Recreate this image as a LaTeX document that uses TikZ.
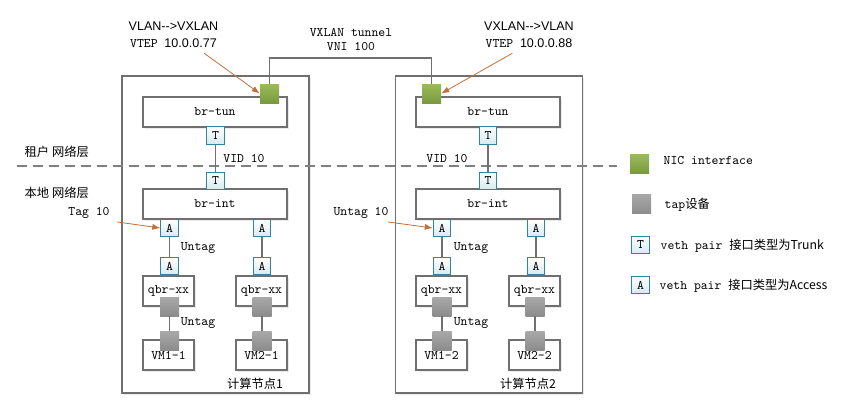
\documentclass[tikz,border=0pt]{standalone}
\usepackage{fontspec}
\setmainfont{Latin Modern Mono}[Ligatures=TeXOff]
\newfontfamily\cjk{Noto Sans CJK SC}[Scale=0.94]
\newfontfamily\ssf{Liberation Sans}[Ligatures=TeXOff,Scale=0.96]
\usetikzlibrary{arrows.meta,shadows}
\definecolor{nictop}{HTML}{9BBB59}
\definecolor{nicbot}{HTML}{7A9A3F}
\definecolor{taptop}{HTML}{A8A8A8}
\definecolor{tapbot}{HTML}{8C8C8C}
\definecolor{portline}{HTML}{31849B}
\definecolor{portfill}{HTML}{D6EAF0}
\definecolor{boxline}{HTML}{707070}
\definecolor{pointerc}{HTML}{C0703A}
\tikzset{
  boxshadow/.style={drop shadow={shadow xshift=1.5pt,shadow yshift=-1.5pt,fill=black,opacity=.08}},
  frame/.style={draw=boxline,line width=1pt,fill=white,boxshadow,minimum width=140.25pt,minimum height=237.75pt},
  brbox/.style={draw=boxline,line width=.9pt,fill=white,boxshadow,minimum width=108pt,minimum height=22.5pt},
  vmbox/.style={draw=boxline,line width=.9pt,fill=white,boxshadow,minimum width=38.25pt,minimum height=22.5pt},
  port/.style={draw=portline,line width=.8pt,top color=white,bottom color=portfill,inner sep=0pt,minimum size=13pt},
  nic/.style={top color=nictop,bottom color=nicbot,inner sep=0pt,minimum size=14.25pt},
  tap/.style={top color=taptop,bottom color=tapbot,inner sep=0pt,minimum size=14.25pt},
  wire/.style={draw=boxline,line width=.8pt},
  pointer/.style={draw=pointerc,line width=.6pt,-{Latex[length=6pt,width=4.5pt]}}
}

\begin{document}
\begin{tikzpicture}[x=0.75pt,y=-0.75pt,font=\fontsize{9.8}{11}\selectfont]
  \useasboundingbox (0,0) rectangle (862,414);
  % compute nodes
  \node[frame] (cn1) at (215.5,234.5) {};
  \node[frame] (cn2) at (488.7,234.5) {};
  \node (cn1lbl) at (255,384) {\cjk{计算节点}1};
  \node (cn2lbl) at (528,384) {\cjk{计算节点}2};
  % layer line
  \draw [gray,line width=.8pt,dash pattern=on 7.5pt off 4.5pt] (17,166) -- (617,166);
  \node[anchor=west] (tenant) at (20,152) {\cjk{租户 网络层}};
  \node[anchor=west] (local) at (20,193) {\cjk{本地 网络层}};
  % bridges
  \node[brbox] (tun1) at (215,112) {br-tun};
  \node[brbox] (tun2) at (488,112) {br-tun};
  \node[brbox] (int1) at (215,204) {br-int};
  \node[brbox] (int2) at (488,204) {br-int};
  \node[vmbox] (qbr11) at (168.5,291) {qbr-xx};
  \node[vmbox] (qbr12) at (261.5,291) {qbr-xx};
  \node[vmbox] (qbr21) at (441.5,291) {qbr-xx};
  \node[vmbox] (qbr22) at (534.5,291) {qbr-xx};
  \node[vmbox] (vm11) at (168.5,355) {VM1-1};
  \node[vmbox] (vm12) at (261.5,355) {VM2-1};
  \node[vmbox] (vm21) at (441.5,355) {VM1-2};
  \node[vmbox] (vm22) at (534.5,355) {VM2-2};
  % ports
  \node[port] (t1a) at (215.5,135.5) {T};
  \node[port] (t1b) at (215.5,181) {T};
  \node[port] (t2a) at (488,135.5) {T};
  \node[port] (t2b) at (488,181) {T};
  \node[port] (a11) at (169.5,228) {A};
  \node[port] (a12) at (262,228) {A};
  \node[port] (a13) at (169.5,266) {A};
  \node[port] (a14) at (262,266) {A};
  \node[port] (a21) at (442,228) {A};
  \node[port] (a22) at (536,228) {A};
  \node[port] (a23) at (442,266) {A};
  \node[port] (a24) at (536,266) {A};
  \node[tap] (tap11) at (169.5,306.5) {};
  \node[tap] (tap12) at (262,306.5) {};
  \node[tap] (tap13) at (169.5,340.5) {};
  \node[tap] (tap14) at (262,340.5) {};
  \node[tap] (tap21) at (442,306.5) {};
  \node[tap] (tap22) at (535,306.5) {};
  \node[tap] (tap23) at (442,340.5) {};
  \node[tap] (tap24) at (535,340.5) {};
  \node[nic] (nic1) at (269.5,93.5) {};
  \node[nic] (nic2) at (431.5,93.5) {};
  % links
  \draw[wire] (t1a) -- (t1b);
  \draw[wire] (t2a) -- (t2b);
  \draw[wire] (a11) -- (a13);
  \draw[wire] (a12) -- (a14);
  \draw[wire] (a21) -- (a23);
  \draw[wire] (a22) -- (a24);
  \draw[wire] (tap11) -- (tap13);
  \draw[wire] (tap12) -- (tap14);
  \draw[wire] (tap21) -- (tap23);
  \draw[wire] (tap22) -- (tap24);
  \coordinate (tunnel) at (350,58);
  \draw[wire] (nic1.north) |- (tunnel) -| (nic2.north);
  % labels
  \node[align=center] (vni) at (351,39.5) {VXLAN tunnel\\[0.2pt]VNI 100};
  \node[align=center] (vtep1) at (173.5,34.5) {{\ssf VLAN-->VXLAN}\\[1.5pt]VTEP {\ssf 10.0.0.77}};
  \node[align=center] (vtep2) at (529,34.5) {{\ssf VXLAN-->VLAN}\\[1.5pt]VTEP {\ssf 10.0.0.88}};
  \node (vid1) at (244,159) {VID 10};
  \node (vid2) at (447,159) {VID 10};
  \node (tag1) at (89,213) {Tag 10};
  \node (tag2) at (361,213) {Untag 10};
  \node (untag11) at (198,248) {Untag};
  \node (untag12) at (198,323) {Untag};
  \node (untag21) at (471,248) {Untag};
  \node (untag22) at (471,323) {Untag};
  \draw[pointer] ([xshift=23pt,yshift=-1pt]vtep1.south) -- (nic1.west);
  \draw[pointer] ([xshift=-12.5pt,yshift=-1pt]vtep2.south) -- (nic2.east);
  \draw[pointer] ([xshift=2pt,yshift=1pt]tag1.south east) -- (a11.west);
  \draw[pointer] ([xshift=-4pt,yshift=1pt]tag2.south east) -- (a21.west);
  % legend
  \node[nic] (lgnic) at (639.5,163.5) {};
  \node[tap] (lgtap) at (641.5,204) {};
  \node[port] (lgt) at (640.5,245) {T};
  \node[port] (lga) at (640.5,285) {A};
  \node[anchor=west] (lgnictxt) at (659,161) {NIC interface};
  \node[anchor=west] (lgtaptxt) at (660,205) {tap\cjk{设备}};
  \node[anchor=west] (lgttxt) at (656,246) {veth pair \cjk{接口类型为}Trunk};
  \node[anchor=west] (lgatxt) at (655,286) {veth pair \cjk{接口类型为}Access};
\end{tikzpicture}
\end{document}
